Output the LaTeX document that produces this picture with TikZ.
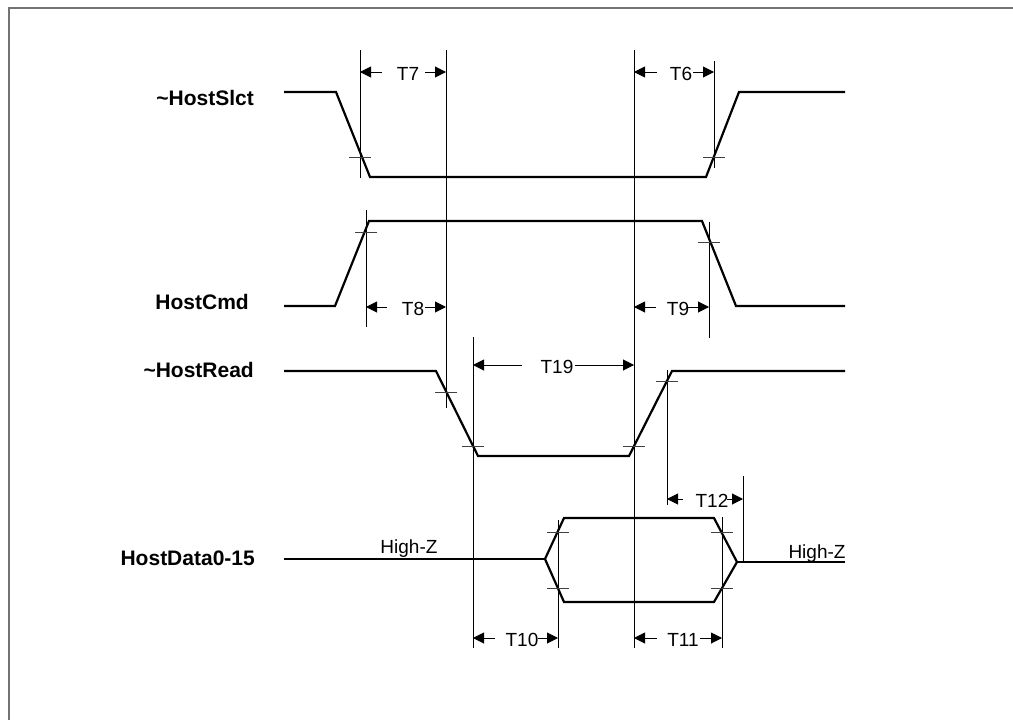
\documentclass[tikz,border=0pt]{standalone}
\usepackage{fontspec}
\setmainfont{Liberation Sans}
\usetikzlibrary{arrows.meta}
\newcommand{\tmeas}[8]{%
  \draw[dimarrow] (#3,#1) -- (#2,#1);
  \draw[dimarrow] (#5,#1) -- (#6,#1);
  \node[tlabel] (#8) at (#4,#1+8) {#7};
}
\newcommand{\xmark}[2]{\draw[tickmark] (#1-11,#2) -- (#1+11,#2);}
\begin{document}
\begin{tikzpicture}[x=1pt,y=-1pt,
  sig/.style={line width=2.2pt, line join=miter},
  guide/.style={line width=0.9pt},
  tickmark/.style={line width=0.9pt, black!75},
  dimarrow/.style={line width=1pt,-{Triangle[length=11pt,width=11pt]}},
  siglabel/.style={font=\fontsize{21}{24}\selectfont\bfseries, anchor=base east, inner sep=0pt},
  tlabel/.style={font=\fontsize{19}{22}\selectfont, anchor=base, inner sep=0pt},
]
\useasboundingbox (0,0) rectangle (1013,720);
\draw[black!55, line width=2pt] (9,720) -- (9,8) -- (1013,8);

% signal labels
\node[siglabel] (lslct) at (254,105) {\textasciitilde HostSlct};
\node[siglabel] (lcmd)  at (249,309) {HostCmd};
\node[siglabel] (lread) at (254,377) {\textasciitilde HostRead};
\node[siglabel] (ldata) at (255,565) {HostData0-15};

% waveforms
\draw[sig] (284,92) -- (336,92) -- (370,177) -- (706,177) -- (739,92) -- (845,92);
\draw[sig] (284,306) -- (335,306) -- (369,221) -- (702,221) -- (736,306) -- (845,306);
\draw[sig] (284,371) -- (436,371) -- (478,456) -- (629,456) -- (672,371) -- (845,371);
\draw[sig] (284,559) -- (545,559);
\draw[sig] (545,559) -- (564,518) -- (714,518) -- (737,562) -- (714,602) -- (564,602) -- cycle;
\draw[sig] (737,562) -- (845,562);

% high-Z labels
\node[tlabel] (hzl) at (409,553) {High-Z};
\node[tlabel] (hzr) at (817,558) {High-Z};

% guide lines
\draw[guide] (360,50) -- (360,178);
\draw[guide] (446,50) -- (446,408);
\draw[guide] (634,50) -- (634,648);
\draw[guide] (714,61) -- (714,168);
\draw[guide] (366,210) -- (366,327);
\draw[guide] (709,222) -- (709,338);
\draw[guide] (473,337) -- (473,648);
\draw[guide] (667,370) -- (667,505);
\draw[guide] (558,520) -- (558,648);
\draw[guide] (722,517) -- (722,648);
\draw[guide] (743,476) -- (743,562);

% crossing marks
\xmark{360}{157}
\xmark{714}{157}
\xmark{366}{232}
\xmark{709}{242}
\xmark{446}{392}
\xmark{473}{446}
\xmark{634}{446}
\xmark{667}{381}
\xmark{558}{532}
\xmark{558}{588}
\xmark{722}{532}
\xmark{722}{588}

% timing measurements
\tmeas{72}{360}{382}{408}{425}{446}{T7}{t7}
\tmeas{72}{634}{657}{681}{693}{714}{T6}{t6}
\tmeas{307}{366}{387}{413}{425}{446}{T8}{t8}
\tmeas{307}{634}{656}{678}{688}{709}{T9}{t9}
\tmeas{365}{473}{522}{557}{575}{634}{T19}{t19}
\tmeas{638}{473}{495}{522}{538}{558}{T10}{t10}
\tmeas{638}{634}{657}{683}{700}{722}{T11}{t11}
\tmeas{499}{667}{683}{712}{727}{743}{T12}{t12}
\end{tikzpicture}
\end{document}
